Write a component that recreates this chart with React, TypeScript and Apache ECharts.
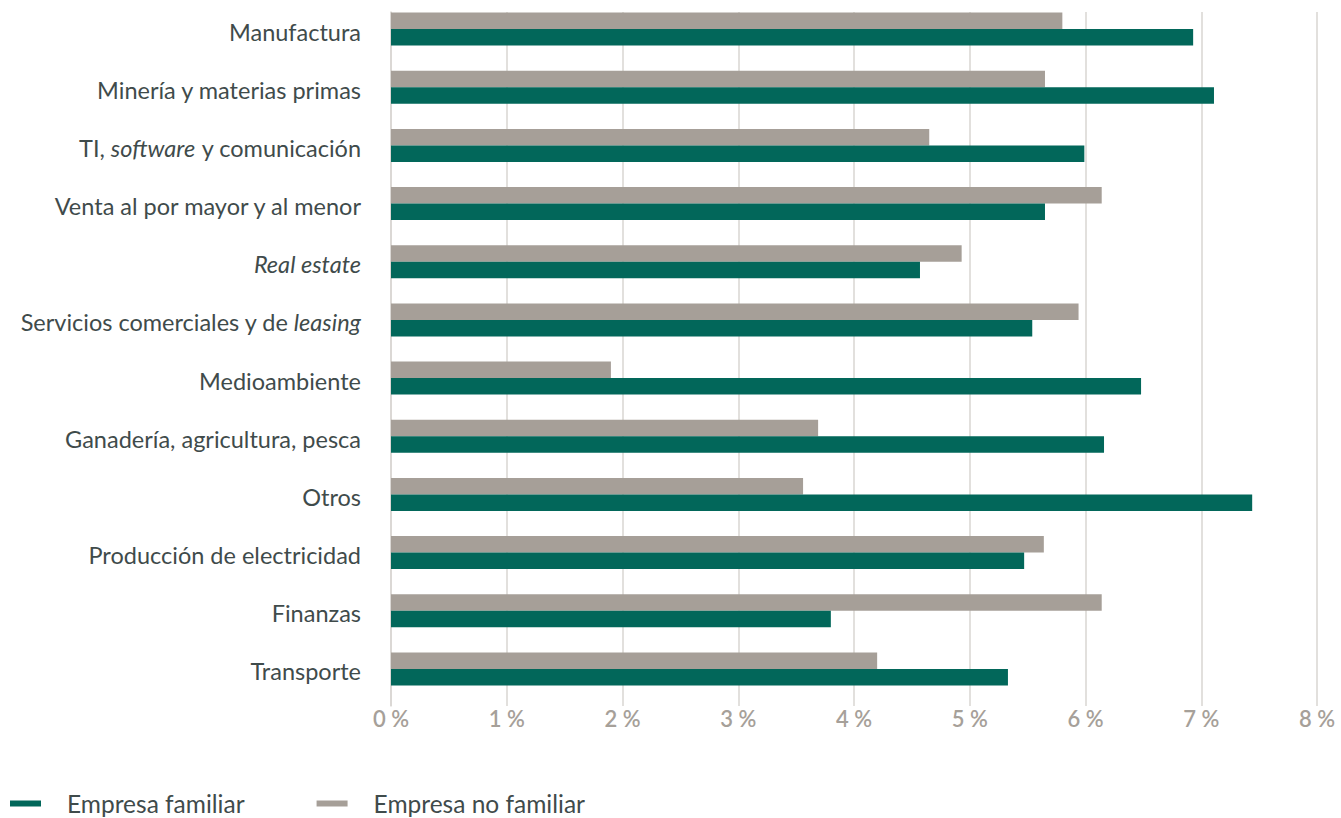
import React, { useEffect, useRef } from "react";
import * as echarts from "echarts";

// Sectors, top to bottom
const categories = [
  "Manufactura",
  "Minería y materias primas",
  "TI, software y comunicación",
  "Venta al por mayor y al menor",
  "Real estate",
  "Servicios comerciales y de leasing",
  "Medioambiente",
  "Ganadería, agricultura, pesca",
  "Otros",
  "Producción de electricidad",
  "Finanzas",
  "Transporte",
];

// Terms set in italics inside the sector names
const italicTerms = ["Real estate", "software", "leasing"];

// Values in %
const empresaFamiliar = [6.93, 7.11, 5.99, 5.65, 4.57, 5.54, 6.48, 6.16, 7.44, 5.47, 3.8, 5.33];
const empresaNoFamiliar = [5.8, 5.65, 4.65, 6.14, 4.93, 5.94, 1.9, 3.69, 3.56, 5.64, 6.14, 4.2];

const GREEN = "#02675a";
const GREY = "#a69f98";
const TEXT = "#3f4b4b";
const FONT = "Lato, 'Noto Sans', sans-serif";

function italicize(label: string): string {
  for (const t of italicTerms) {
    if (label.includes(t)) return label.replace(t, `{i|${t}}`);
  }
  return label;
}

export default function App() {
  const ref = useRef<HTMLDivElement>(null);

  useEffect(() => {
    document.body.style.margin = "0";
    if (!ref.current) return;
    const chart = echarts.init(ref.current, undefined, { renderer: "svg" });

    chart.setOption({
      animation: false,
      backgroundColor: "#ffffff",
      textStyle: { fontFamily: FONT },
      legend: {
        data: ["Empresa familiar", "Empresa no familiar"],
        left: 10,
        top: 791,
        padding: 0,
        icon: "rect",
        itemWidth: 31,
        itemHeight: 6,
        itemGap: 72,
        textStyle: {
          fontFamily: FONT,
          fontSize: 24.5,
          color: TEXT,
          padding: [0, 0, 0, 21],
        },
      },
      grid: [
        { left: 391, right: 24, top: -3, bottom: 120, containLabel: false },
        { left: 391, right: 24, top: 12, bottom: 112, containLabel: false },
      ],
      xAxis: [
        {
          type: "value",
          gridIndex: 0,
          min: 0,
          max: 8,
          interval: 1,
          axisLine: { show: false },
          axisTick: { show: false },
          axisLabel: { show: false },
          splitLine: { show: false },
        },
        {
          type: "value",
          gridIndex: 1,
          min: 0,
          max: 8,
          interval: 1,
          axisLine: { show: false },
          axisTick: { show: false },
          axisLabel: {
            margin: 1,
            fontFamily: FONT,
            fontSize: 22,
            fontWeight: 600,
            color: "#a6a099",
            formatter: (v: number) => `${v} %`,
          },
          splitLine: { show: true, lineStyle: { color: "#d9d6d2", width: 1.5 } },
        },
      ],
      yAxis: [
        {
          type: "category",
          gridIndex: 0,
          inverse: true,
          data: categories,
          axisLine: { show: false },
          axisTick: { show: false },
          axisLabel: {
            margin: 30,
            fontFamily: FONT,
            fontSize: 23.5,
            color: TEXT,
            padding: [5, 0, 0, 0],
            formatter: (v: string) => italicize(v),
            rich: {
              i: { fontFamily: FONT, fontSize: 23.5, color: TEXT, fontStyle: "italic" },
            },
          },
        },
        {
          type: "value",
          gridIndex: 1,
          min: 0,
          max: 1,
          axisLine: { show: true, lineStyle: { color: "#d9d6d2", width: 1.5 } },
          axisTick: { show: false },
          axisLabel: { show: false },
          splitLine: { show: false },
        },
      ],
      series: [
        {
          name: "Empresa no familiar",
          type: "bar",
          xAxisIndex: 0,
          yAxisIndex: 0,
          data: empresaNoFamiliar,
          barWidth: 16.5,
          barGap: "0%",
          itemStyle: { color: GREY },
        },
        {
          name: "Empresa familiar",
          type: "bar",
          xAxisIndex: 0,
          yAxisIndex: 0,
          data: empresaFamiliar,
          barWidth: 16.5,
          barGap: "0%",
          itemStyle: { color: GREEN },
        },
      ],
    });

    return () => chart.dispose();
  }, []);

  return <div ref={ref} style={{ width: 1341, height: 818 }} />;
}
